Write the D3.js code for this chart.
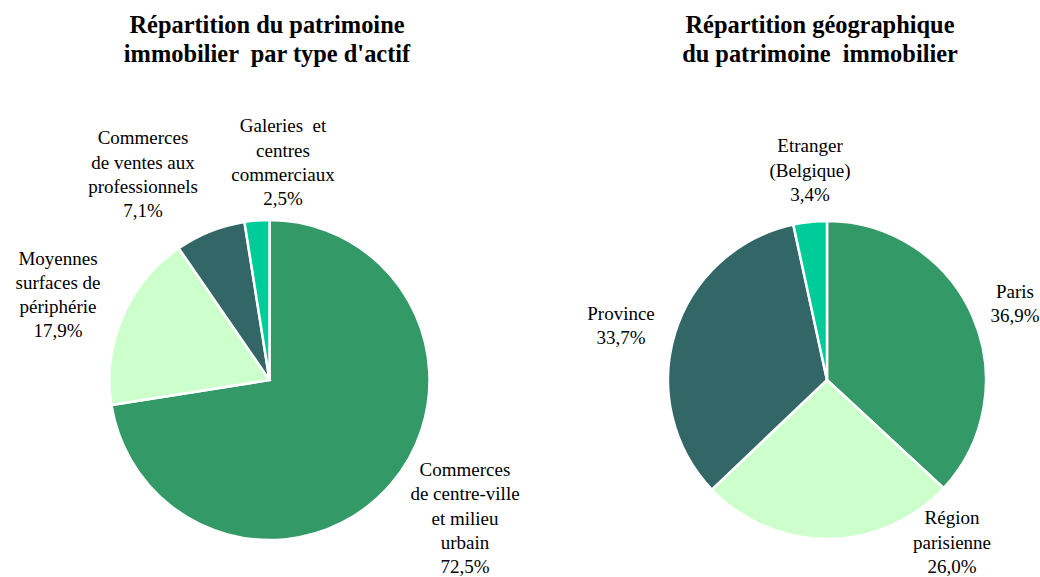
<!DOCTYPE html>
<html><head><meta charset="utf-8">
<script src="https://cdn.jsdelivr.net/npm/d3@7"></script>
<style>
html,body{margin:0;padding:0;background:#fff;}
svg{display:block;}
text{font-family:"Liberation Serif","Times New Roman",Times,serif;fill:#000;white-space:pre;}
</style></head>
<body>
<svg id="chart" width="1040" height="577"></svg>
<script>
// ---- data ----
const typeCategories = ["Commerces de centre-ville et milieu urbain","Moyennes surfaces de périphérie","Commerces de ventes aux professionnels","Galeries et centres commerciaux"];
const typeValues = [72.5, 17.9, 7.1, 2.5];
const typeLabelLines = [["Commerces","de centre-ville","et milieu","urbain"],["Moyennes","surfaces de","périphérie"],["Commerces","de ventes aux","professionnels"],["Galeries  et","centres","commerciaux"]];
const geoCategories = ["Paris","Région parisienne","Province","Etranger (Belgique)"];
const geoValues = [36.9, 26.0, 33.7, 3.4];
const geoLabelLines = [["Paris"],["Région","parisienne"],["Province"],["Etranger","(Belgique)"]];
const titles = [["Répartition du patrimoine","immobilier  par type d'actif"],["Répartition géographique","du patrimoine  immobilier"]];

// ---- layout ----
const colors = ["#339966","#CCFFCC","#336666","#00CC99"];
const svg = d3.select("#chart");
const fmt = v => d3.format(".1f")(v).replace(".", ",") + "%";

const pies = [
  {cx:269.5, cy:380, r:160, values:typeValues, lines:typeLabelLines, title:titles[0], tx:267,
   labelPos:[[195.5,138],[-211.5,-85.5],[-126.5,-206],[13.5,-218]]},
  {cx:827, cy:380, r:159, values:geoValues, lines:geoLabelLines, title:titles[1], tx:820,
   labelPos:[[188,-77],[125,162],[-206,-55],[-17,-210]]}
];

const lineH = 24.2;
pies.forEach(p => {
  // title
  const t = svg.append("text").attr("x", p.tx).attr("text-anchor","middle")
    .attr("font-family","Liberation Serif, Times New Roman, serif")
    .style("font-weight","bold").style("font-size","24.4px");
  p.title.forEach((l,i) => t.append("tspan").attr("x", p.tx).attr("y", 33 + i*29).text(l));

  const pie = d3.pie().sort(null).value(d => d);
  const arcs = pie(p.values);
  const arc = d3.arc().innerRadius(0).outerRadius(p.r);
  const g = svg.append("g").attr("transform", `translate(${p.cx},${p.cy})`);
  g.selectAll("path").data(arcs).join("path")
    .attr("d", arc)
    .attr("fill", (d,i) => colors[i])
    .attr("stroke", "#fff").attr("stroke-width", 2.5).attr("stroke-linejoin","miter");

  arcs.forEach((a,i) => {
    const all = p.lines[i].concat([fmt(p.values[i])]);
    const [dx,dy] = p.labelPos[i];
    const txt = g.append("text").attr("text-anchor","middle")
      .attr("font-family","Liberation Serif, Times New Roman, serif")
      .style("font-size","19px");
    const y0 = dy - (all.length-1)*lineH/2;
    all.forEach((l,j) => txt.append("tspan").attr("x", dx).attr("y", y0 + j*lineH).attr("dy","0.35em").text(l));
  });
});
</script>
</body></html>
